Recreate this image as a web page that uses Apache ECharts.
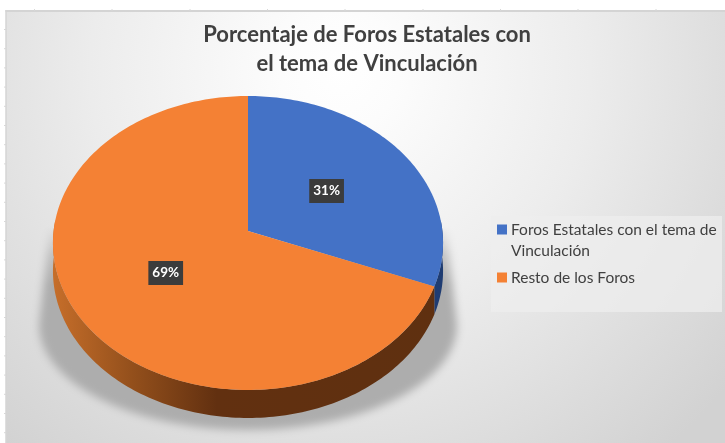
<!DOCTYPE html>
<html><head><meta charset="utf-8">
<style>html,body{margin:0;padding:0;background:#fff}#c{width:725px;height:443px}</style>
<script src="https://cdn.jsdelivr.net/npm/echarts@6/dist/echarts.min.js"></script>
</head><body><div id="c"></div>
<script>
const categories = ['Foros Estatales con el tema de Vinculación', 'Resto de los Foros'];
const values = [31, 69];
const titleLines = ['Porcentaje de Foros Estatales con', 'el tema de Vinculación'];
const topColors = ['#4472c6', '#f48134'];

const total = values.reduce((a, b) => a + b, 0);
const AX = 248, AY = 231, K = 194.4, B = 146, P = 0.0816, DEPTH = 28;
function project(t, r) {
  const u = Math.sin(t) * r, v = -Math.cos(t) * r, w = 1 - P * v;
  return [AX + K * u / w, AY + B * v / w];
}
function arc(a0, a1, dy) {
  const n = Math.max(2, Math.ceil(Math.abs(a1 - a0) / 0.02)), pts = [];
  for (let i = 0; i <= n; i++) {
    const p = project(a0 + (a1 - a0) * i / n, 1);
    pts.push([p[0], p[1] + dy]);
  }
  return pts;
}
function sliceAngles(i) {
  let s = 0;
  for (let k = 0; k < i; k++) s += values[k];
  return [s / total * 2 * Math.PI, (s + values[i]) / total * 2 * Math.PI];
}
const wallFill = [
  '#1f3c72',
  new echarts.graphic.LinearGradient(53, 0, 443, 0, [
    {offset: 0, color: '#c66e2a'}, {offset: 0.2, color: '#94501c'},
    {offset: 0.42, color: '#623010'}, {offset: 1, color: '#5f3010'}], true)
];
function renderSlice(i) {
  return function (params, api) {
    const [a0, a1] = sliceAngles(i);
    const children = [];
    const lo = Math.max(a0, Math.PI / 2 - 0.08), hi = Math.min(a1, 3 * Math.PI / 2 + 0.08);
    if (hi > lo) {
      const wall = arc(lo, hi, 0).concat(arc(lo, hi, DEPTH).reverse());
      children.push({type: 'polygon', shape: {points: wall}, style: {fill: wallFill[i]}});
    }
    children.push({type: 'polygon', shape: {points: [[AX, AY]].concat(arc(a0, a1, 0))},
      style: {fill: api.visual('color')}});
    const c = project((a0 + a1) / 2, 0.5);
    children.push({type: 'text', x: c[0], y: c[1], z2: 10, style: {
      text: Math.round(api.value(0) / total * 100) + '%',
      fill: '#fff', font: 'bold 13.5px Lato, sans-serif',
      align: 'center', verticalAlign: 'middle',
      backgroundColor: '#3c3c3c', padding: [5, 4, 5, 4],
      boxShadowBlur: 5, boxShadowColor: 'rgba(0,0,0,0.55)', boxShadowOffsetX: 2, boxShadowOffsetY: 2
    }});
    return {type: 'group', children};
  };
}
const bgGraphics = [
  {type: 'rect', z: -5, shape: {x: 6, y: 11, width: 719, height: 432},
   style: {fill: new echarts.graphic.RadialGradient(340, 70, 500, [
     {offset: 0, color: '#ffffff'}, {offset: 0.12, color: '#fcfcfc'}, {offset: 0.5, color: '#ececec'}, {offset: 1, color: '#d2d2d2'}], true)}},
  {type: 'line', z: -4, shape: {x1: 5.5, y1: 11, x2: 725, y2: 11}, style: {stroke: '#d4d4d4', lineWidth: 2}},
  {type: 'line', z: -4, shape: {x1: 6, y1: 10, x2: 6, y2: 443}, style: {stroke: '#d4d4d4', lineWidth: 1.5}},
  {type: 'rect', z: -3, shape: {x: 491, y: 216, width: 231, height: 96}, style: {fill: '#ededed', opacity: 0.75}}
];
[34.5, 112, 190, 267.5, 345, 423, 500.5, 578, 656].forEach(x =>
  bgGraphics.push({type: 'line', z: -4, shape: {x1: x, y1: 9, x2: x, y2: 11}, style: {stroke: '#d8d8d8', lineWidth: 1}}));
for (let y = 29.5; y < 443; y += 19.2)
  bgGraphics.push({type: 'line', z: -4, shape: {x1: 4, y1: y, x2: 6, y2: y}, style: {stroke: '#d8d8d8', lineWidth: 1}});

// soft ground shadow of the pie (only the blurred shadow is visible)
const OFF = 2000, shadowPts = [[50, 225]];
for (let i = 0; i <= 60; i++) {
  const t = Math.PI * i / 60;
  shadowPts.push([248 - 209 * Math.cos(t), 325 + 105 * Math.sin(t)]);
}
shadowPts.push([446, 225]);
bgGraphics.push({type: 'polygon', z: -2,
  shape: {points: shadowPts.map(p => [p[0] - OFF, p[1]])},
  style: {
    fill: new echarts.graphic.LinearGradient(0, 225, 0, 285, [
      {offset: 0, color: 'rgba(0,0,0,0)'}, {offset: 0.5, color: 'rgba(0,0,0,0.65)'}, {offset: 1, color: 'rgba(0,0,0,1)'}], true),
    shadowBlur: 9, shadowColor: '#adadad', shadowOffsetX: OFF, shadowOffsetY: 0
  }});

const chart = echarts.init(document.getElementById('c'), null, {renderer: 'canvas'});
chart.setOption({
  animation: false,
  title: {
    text: titleLines.join('\n'), left: 362, top: 15, textAlign: 'center',
    textStyle: {fontFamily: 'Lato, sans-serif', fontWeight: 'bold', fontSize: 22, color: '#404040', lineHeight: 29}
  },
  legend: {
    orient: 'vertical', left: 492, top: 193, icon: 'rect', itemWidth: 10, itemHeight: 10, itemGap: 6,
    data: categories, selectedMode: false,
    formatter: n => n === categories[0] ? '\nForos Estatales con el tema de\nVinculación' : n,
    textStyle: {fontFamily: 'Lato, sans-serif', fontSize: 15.5, color: '#404040', lineHeight: 21, padding: [0, 0, 0, -1]}
  },
  graphic: bgGraphics,
  series: categories.map((name, i) => ({
    type: 'custom', name, coordinateSystem: 'none', silent: true,
    itemStyle: {color: topColors[i]},
    renderItem: renderSlice(i),
    data: [[values[i]]]
  }))
});
</script></body></html>
